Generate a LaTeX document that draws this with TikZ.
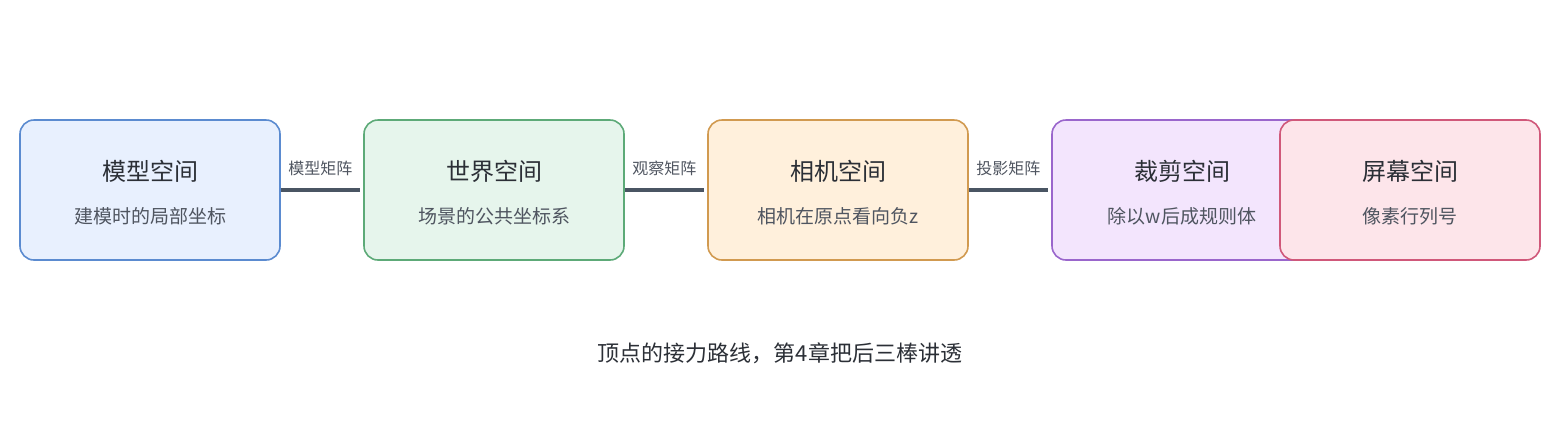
\documentclass[tikz,border=0pt]{standalone}
\usepackage{fontspec}
\newfontfamily\cjk{Noto Sans CJK SC}
\definecolor{ln}{HTML}{4A5563}
\definecolor{tt}{HTML}{2B2F36}
\definecolor{st}{HTML}{4F5560}
\begin{document}
\begin{tikzpicture}[x=1pt,y=-1pt,
 box/.style={draw,line width=1.6pt,rounded corners=14pt,minimum width=260pt,minimum height=140pt,inner sep=0pt},
 ttl/.style={font=\cjk\fontsize{24}{28}\selectfont,text=tt},
 sub/.style={font=\cjk\fontsize{19}{23}\selectfont,text=st},
 lab/.style={font=\cjk\fontsize{16}{20}\selectfont,text=st},
 con/.style={draw=ln,line width=4pt}]
\useasboundingbox (0,0) rectangle (1560,440);
\node[box,draw={rgb,255:red,91;green,139;blue,208},fill={rgb,255:red,232;green,240;blue,254}] (b1) at (150,190) {};
\node[box,draw={rgb,255:red,93;green,170;blue,120},fill={rgb,255:red,230;green,245;blue,236}] (b2) at (494,190) {};
\node[box,draw={rgb,255:red,209;green,154;blue,80},fill={rgb,255:red,255;green,240;blue,220}] (b3) at (838,190) {};
\node[box,draw={rgb,255:red,154;green,102;blue,204},fill={rgb,255:red,243;green,229;blue,253}] (b4) at (1182,190) {};
\node[box,draw={rgb,255:red,208;green,88;blue,122},fill={rgb,255:red,253;green,229;blue,234}] (b5) at (1410,190) {};
\foreach \n/\x/\t/\s in {t1/150/模型空间/建模时的局部坐标, t2/494/世界空间/场景的公共坐标系, t3/838/相机空间/相机在原点看向负z, t4/1182/裁剪空间/除以w后成规则体, t5/1410/屏幕空间/像素行列号}{
 \node[ttl] (\n) at (\x,171) {\t};
 \node[sub] (\n s) at (\x,216) {\s};
}
\coordinate (e1) at (360,190);
\coordinate (e2) at (704,190);
\coordinate (e3) at (1048,190);
\draw[con] (b1.east) -- node[lab,above=9pt] (l1) {模型矩阵} (e1);
\draw[con] (b2.east) -- node[lab,above=9pt] (l2) {观察矩阵} (e2);
\draw[con] (b3.east) -- node[lab,above=9pt] (l3) {投影矩阵} (e3);
\node[font=\cjk\fontsize{22}{26}\selectfont,text=tt] (cap) at (780,353) {顶点的接力路线，第4章把后三棒讲透};
\end{tikzpicture}
\end{document}
